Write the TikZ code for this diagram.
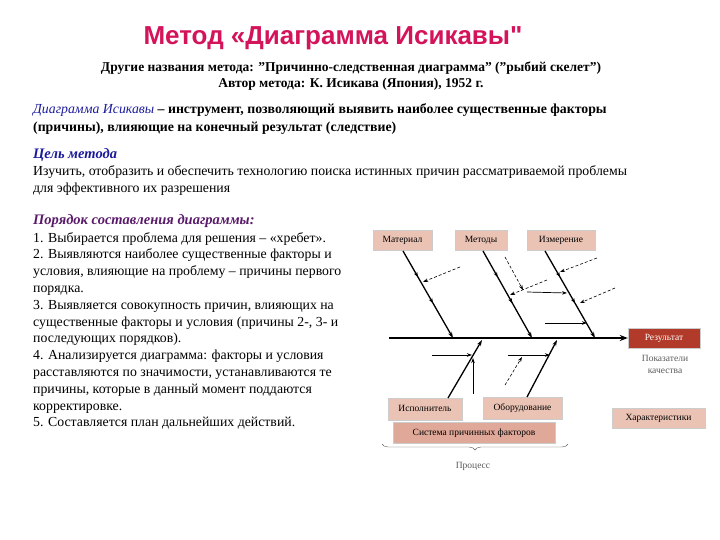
\documentclass[tikz,border=0pt]{standalone}
\usepackage{fontspec}
\setmainfont{Liberation Serif}
\newfontfamily\titlefont{Liberation Sans}
\usetikzlibrary{arrows.meta,decorations.markings,decorations.pathreplacing}
\definecolor{boxc}{HTML}{EBC3B5}
\definecolor{resc}{HTML}{B23A2A}
\definecolor{titc}{HTML}{D4145A}
\definecolor{blueh}{HTML}{1A1A9A}
\definecolor{purh}{HTML}{5A1A6A}
\begin{document}
\begin{tikzpicture}[x=1pt,y=-1pt,
  lbl/.style={fill=boxc,draw=gray!40,font=\fontsize{9.5}{10}\selectfont,inner xsep=0pt,inner ysep=5.5pt,text height=7pt,text depth=2pt},
  bone/.style={line width=1.3pt,-{Stealth[length=6pt,width=4pt]}},
  midar/.style={postaction={decorate},decoration={markings,mark=at position 0.3 with {\arrow{Stealth[length=5pt]}},mark=at position 0.6 with {\arrow{Stealth[length=5pt]}}}},
  sm/.style={line width=0.7pt,-{Stealth[length=5pt,width=3.5pt]}},
  smd/.style={line width=0.6pt,densely dashed,-{Stealth[length=5pt,width=3.5pt]}},
  txt/.style={anchor=west,inner sep=0pt,font=\fontsize{13.8}{16.8}\selectfont,align=left}]
\useasboundingbox (0,0) rectangle (720,540);
% texts
\node[font=\titlefont\bfseries\fontsize{26}{28}\selectfont,text=titc] (title) at (333,38) {Метод «Диаграмма Исикавы"};
\node[font=\bfseries\fontsize{13.5}{16}\selectfont,align=center] (sub) at (351,76) {Другие названия метода: "Причинно-следственная диаграмма" ("рыбий скелет")\\Автор метода: К. Исикава (Япония), 1952 г.};
\node[txt,font=\bfseries\fontsize{13.8}{18}\selectfont] (def) at (33,119) {{\mdseries\itshape\color{blueh}Диаграмма Исикавы} – инструмент, позволяющий выявить наиболее существенные факторы\\(причины), влияющие на конечный результат (следствие)};
\node[txt,font=\bfseries\itshape\fontsize{14.5}{16}\selectfont,text=blueh] (goal) at (33,155) {Цель метода};
\node[txt,font=\fontsize{13.8}{17}\selectfont] (goalt) at (33,180.5) {Изучить, отобразить и обеспечить технологию поиска истинных причин рассматриваемой проблемы\\для эффективного их разрешения};
\node[txt,font=\bfseries\itshape\fontsize{14.5}{16}\selectfont,text=purh] (ord) at (33,221) {Порядок составления диаграммы:};
\node[txt,anchor=north west] (list) at (33,232) {1. Выбирается проблема для решения – «хребет».\\2. Выявляются наиболее существенные факторы и\\условия, влияющие на проблему – причины первого\\порядка.\\3. Выявляется совокупность причин, влияющих на\\существенные факторы и условия (причины 2-, 3- и\\последующих порядков).\\4. Анализируется диаграмма: факторы и условия\\расставляются по значимости, устанавливаются те\\причины, которые в данный момент поддаются\\корректировке.\\5. Составляется план дальнейших действий.};
% boxes
\node[lbl,minimum width=59pt] (mat) at (402.5,240) {Материал};
\node[lbl,minimum width=52pt] (met) at (481,240) {Методы};
\node[lbl,minimum width=68pt] (izm) at (561,240) {Измерение};
\node[lbl,fill=resc,text=white,minimum width=72pt] (res) at (664,338) {Результат};
\node[font=\fontsize{9.5}{12}\selectfont,align=center,text=gray!70!black] (pok) at (665,364) {Показатели\\качества};
\node[lbl,minimum width=74pt,inner ysep=6.5pt] (isp) at (425,409) {Исполнитель};
\node[lbl,minimum width=79pt,inner ysep=6.5pt] (obo) at (522.5,408) {Оборудование};
\node[lbl,fill=boxc!80!resc,minimum width=162pt,inner ysep=6pt] (sys) at (474,432.5) {Система причинных факторов};
\node[lbl,minimum width=93pt] (har) at (658.5,418) {Характеристики};
% spine
\coordinate (sp0) at (389,338);
\draw[line width=1.5pt,-{Stealth[length=8pt,width=6pt]}] (sp0) -- (res.west);
% bones
\coordinate (b1) at (453,338); \coordinate (b2) at (532,338); \coordinate (b3) at (595,338);
\coordinate (b4) at (482,340); \coordinate (b5) at (557,340);
\draw[bone,midar] (403,251) -- (b1);
\draw[bone,midar] (483,251) -- (b2);
\draw[bone,midar] (545,251) -- (b3);
\draw[bone] (448,398) -- (b4);
\draw[bone] (527,397) -- (b5);
% small arrows
\coordinate (s1a) at (432,355); \coordinate (s1b) at (472,355);
\coordinate (s2a) at (473,394); \coordinate (s2b) at (473,358);
\coordinate (s3a) at (508,355); \coordinate (s3b) at (550,355);
\coordinate (s4a) at (505,385); \coordinate (s4b) at (522,357);
\draw[smd] (460,267) -- (423,282);
\draw[smd] (505,257) -- (523,290);
\draw[smd] (547,280) -- (510,295);
\draw[sm] (527,292) -- (567,293);
\draw[sm] (545,323) -- (587,323);
\draw[smd] (597,258) -- (560,272);
\draw[smd] (615,288) -- (580,303);
\draw[sm] (s1a) -- (s1b);
\draw[sm] (s2a) -- (s2b);
\draw[sm] (s3a) -- (s3b);
\draw[smd] (s4a) -- (s4b);
% brace
\draw[decorate,decoration={brace,mirror,amplitude=6pt},gray!70!black] (382,444) -- (568,444);
\node[font=\fontsize{9.5}{10}\selectfont,text=gray!70!black] (proc) at (473,466) {Процесс};
\end{tikzpicture}
\end{document}
